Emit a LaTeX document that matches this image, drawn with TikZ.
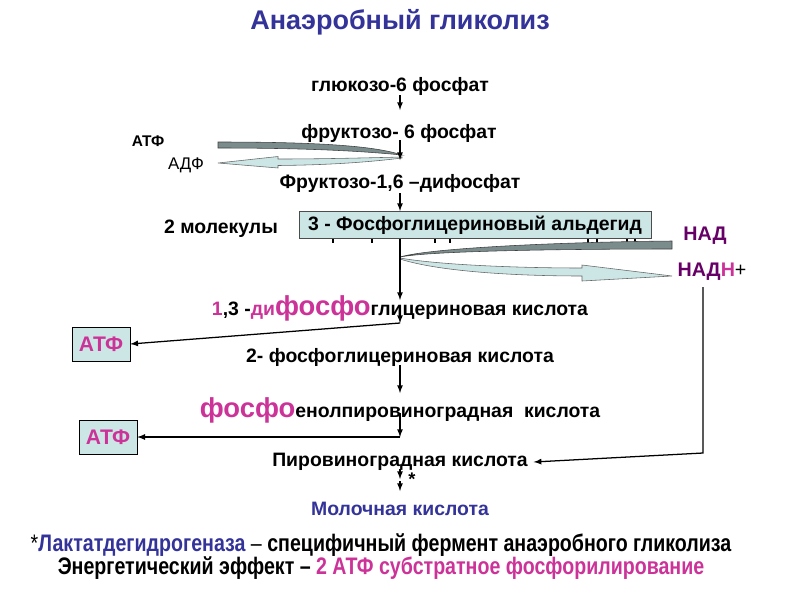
\documentclass[tikz,border=0pt]{standalone}
\usepackage{fontspec}
\setmainfont{Liberation Sans}
\newfontfamily\narrowfont[FakeStretch=0.82]{Liberation Sans}
\usetikzlibrary{arrows}
\definecolor{darkblue}{HTML}{333399}
\definecolor{mag}{HTML}{CC3399}
\definecolor{nadpurple}{HTML}{660066}
\definecolor{boxcyan}{HTML}{CCE6E6}
\definecolor{bandgray}{HTML}{7A8C8C}
\newcommand{\fosfo}{\fontsize{19.5}{21}\selectfont фосфо}

\begin{document}
\begin{tikzpicture}[x=0.025cm,y=-0.025cm,
	lbl/.style={font=\bfseries\fontsize{13.8}{15}\selectfont,inner sep=0pt},
	atfbox/.style={draw=black,fill=boxcyan,text=mag,font=\bfseries\fontsize{15}{17}\selectfont,minimum width=1.45cm,minimum height=0.85cm},
	arr/.style={-latex,line width=0.9pt}]
\useasboundingbox (0,0) rectangle (800,600);

\node[font=\bfseries\fontsize{19.2}{21}\selectfont,text=darkblue] (title) at (400,22) {Анаэробный гликолиз};

% chain of intermediates
\node[lbl] (glu) at (400,86) {глюкозо-6 фосфат};
\node[lbl] (fr6) at (399,133) {фруктозо- 6 фосфат};
\node[lbl] (fr16) at (400,183) {Фруктозо-1,6 –дифосфат};
\node[lbl] (mol) at (221,229) {2 молекулы};
\foreach \x in {333,372,435,450,588,597,627,635}
	\fill (\x-1.2,238) rectangle +(2.4,5);
\node[draw=black!70,fill=boxcyan,lbl,minimum width=8.8cm,minimum height=0.67cm] (gald) at (475,225) {3 - Фосфоглицериновый альдегид};
\node[lbl] (dpg) at (400,308) {{\color{mag}1},3 -{\color{mag}ди{\fosfo}}глицериновая кислота};
\node[lbl] (pg2) at (400,357) {2- фосфоглицериновая кислота};
\node[lbl] (pep) at (400,410) {{\color{mag}\fosfo}енолпировиноградная\ \ кислота};
\node[lbl] (pyr) at (400,462) {Пировиноградная кислота};
\node[lbl,text=darkblue] (lac) at (400,509) {Молочная кислота};

\node[font=\bfseries\fontsize{11}{13}\selectfont] (atp0) at (148,141) {АТФ};
\node[font=\fontsize{12}{14}\selectfont] (adp0) at (186,165) {АДФ};
\node[font=\bfseries\fontsize{14}{16}\selectfont,text=nadpurple] (nad) at (705,236) {НАД};
\node[font=\bfseries\fontsize{14}{16}\selectfont,text=nadpurple] (nadh) at (712,272) {НАД{\color{mag}Н}{\mdseries\color{black}+}};

\node[atfbox] (atp1) at (101,344) {АТФ};
\node[atfbox] (atp2) at (108,437) {АТФ};

% ATP / ADP band
\filldraw[fill=bandgray,draw=black!75] (218,142) .. controls (320,142) and (375,146) .. (402,155) .. controls (370,152) and (320,148) .. (218,148) -- cycle;
\filldraw[fill=boxcyan,draw=black!60] (402,157) .. controls (360,158) and (320,159) .. (278,159) -- (278,156.5) -- (218,163) -- (278,168) -- (278,165.5) .. controls (330,165) and (370,162) .. (402,158) -- cycle;

% NAD / NADH band
\filldraw[fill=bandgray,draw=black!75] (672,241) -- (672,249) .. controls (560,249) and (430,251) .. (400,257) .. controls (430,248) and (560,242) .. (672,241) -- cycle;
\filldraw[fill=boxcyan,draw=black!60] (400,258) .. controls (440,265) and (520,268) .. (582,268) -- (582,265) -- (672,276) -- (582,281) -- (582,276) .. controls (520,276) and (440,272) .. (400,259) -- cycle;

\coordinate (a1) at (400,95);  \coordinate (b1) at (400,110);
\coordinate (a2) at (400,140); \coordinate (b2) at (400,160);
\coordinate (a3) at (400,193); \coordinate (b3) at (400,211);
\coordinate (b4) at (400,300);
\coordinate (a5) at (400,311); \coordinate (b5) at (400,323);
\coordinate (a6) at (400,365); \coordinate (b6) at (400,393);
\coordinate (a7) at (400,413); \coordinate (b7) at (400,437);
\coordinate (a8) at (400,469); \coordinate (b8) at (400,479);
\coordinate (a9) at (400,481); \coordinate (b9) at (400,491);
\coordinate (nadh1) at (703,287); \coordinate (nadh2) at (703,453);

\draw[arr] (a1) -- (b1);
\draw[arr] (a2) -- (b2);
\draw[arr] (a3) -- (b3);
\draw[arr] (gald.south -| b4) -- (b4);
\draw[arr] (a5) -- (b5);
\draw[arr] (a6) -- (b6);
\draw[arr] (a7) -- (b7);
\draw[arr] (a8) -- (b8);
\draw[arr] (a9) -- (b9);
\node[font=\bfseries\fontsize{13}{15}\selectfont,inner sep=0pt] (star) at (412,479) {*};

\draw[arr] (b5) -- (atp1.east);
\draw[arr] (b7) -- (atp2.east);
\draw[arr] (nadh1) -- (nadh2) -- ([xshift=4pt]pyr.east);

% footnote
\node[font=\narrowfont\bfseries\fontsize{17}{19}\selectfont] (note1) at (381,545) {{\mdseries*}{\color{darkblue}Лактатдегидрогеназа} {\mdseries –} специфичный фермент анаэробного гликолиза};
\node[font=\narrowfont\bfseries\fontsize{17}{19}\selectfont] (note2) at (381,568) {Энергетический эффект – {\color{mag}2 АТФ субстратное фосфорилирование}};
\end{tikzpicture}
\end{document}
